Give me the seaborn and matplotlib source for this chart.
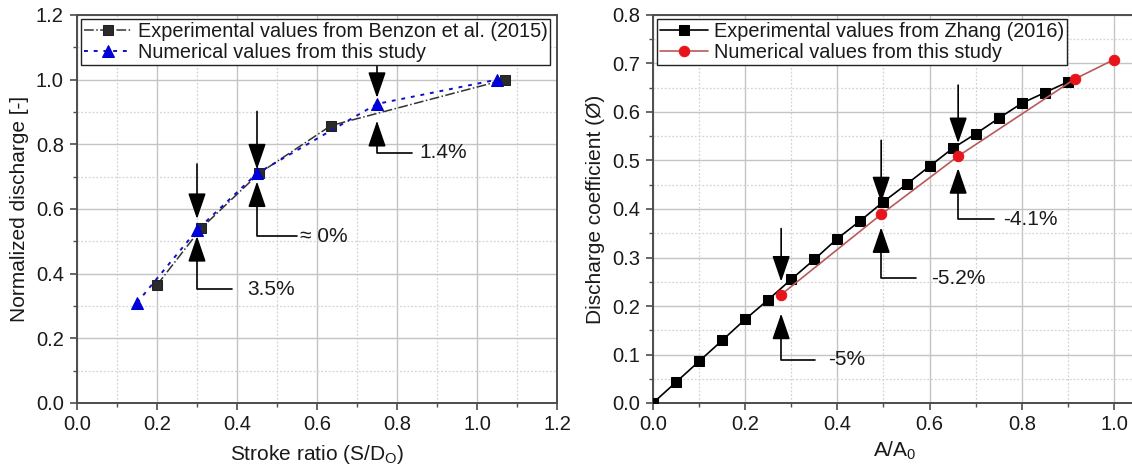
import matplotlib
matplotlib.use("Agg")
import matplotlib.pyplot as plt
from matplotlib.ticker import MultipleLocator, AutoMinorLocator, FormatStrFormatter
import seaborn as sns

# ---- Left panel: normalized discharge vs stroke ratio ----
benzon_x = [0.20, 0.31, 0.455, 0.635, 1.07]
benzon_y = [0.365, 0.54, 0.71, 0.858, 1.0]
study_left_x = [0.15, 0.30, 0.45, 0.75, 1.05]
study_left_y = [0.31, 0.535, 0.71, 0.925, 1.0]
left_labels = ["3.5%", "\u2248 0%", "1.4%"]
left_marked = [1, 2, 3]          # indices into the study series that get a callout

# ---- Right panel: discharge coefficient vs A/A0 ----
zhang_x = [0.0, 0.05, 0.10, 0.15, 0.20, 0.25, 0.30, 0.35, 0.40, 0.45,
           0.50, 0.55, 0.60, 0.65, 0.70, 0.75, 0.80, 0.85, 0.90]
zhang_y = [0.0, 0.043, 0.086, 0.129, 0.1725, 0.213, 0.255, 0.296, 0.339, 0.376,
           0.415, 0.451, 0.488, 0.525, 0.555, 0.587, 0.618, 0.640, 0.662]
study_right_x = [0.278, 0.495, 0.662, 0.915, 1.0]
study_right_y = [0.2235, 0.389, 0.509, 0.668, 0.708]
right_labels = ["-5%", "-5.2%", "-4.1%"]
right_marked = [0, 1, 2]

sns.set_theme(style="ticks")
plt.rcParams["font.family"] = ["Liberation Sans", "DejaVu Sans"]
plt.rcParams["mathtext.fontset"] = "custom"
plt.rcParams["mathtext.rm"] = "Liberation Sans"
plt.rcParams["mathtext.it"] = "Liberation Sans:italic"

TXT = "#1a1a1a"
SPINE = "#4d4d4d"
TICK_FS = 14.5
LABEL_FS = 15
LEGEND_FS = 14.3
NOTE_FS = 15

fig = plt.figure(figsize=(11.32, 4.70), dpi=100)
axL = fig.add_axes([77 / 1132, 1 - 403 / 470, 480 / 1132, 388 / 470])
axR = fig.add_axes([653 / 1132, 1 - 403 / 470, 484 / 1132, 388 / 470])


def style_axes(ax, xmax, ymax, xstep, ystep):
    ax.set_xlim(0, xmax)
    ax.set_ylim(0, ymax)
    ax.xaxis.set_major_locator(MultipleLocator(xstep))
    ax.yaxis.set_major_locator(MultipleLocator(ystep))
    ax.xaxis.set_minor_locator(AutoMinorLocator(2))
    ax.yaxis.set_minor_locator(AutoMinorLocator(2))
    ax.xaxis.set_major_formatter(FormatStrFormatter("%.1f"))
    ax.yaxis.set_major_formatter(FormatStrFormatter("%.1f"))
    ax.grid(which="major", color="#c4c4c4", lw=1.0, ls="-")
    ax.grid(which="minor", color="#d4d4d4", lw=0.9, ls=(0, (1.5, 1.5)))
    ax.set_axisbelow(True)
    for s in ax.spines.values():
        s.set_visible(True)
        s.set_color(SPINE)
        s.set_linewidth(1.4)
    ax.tick_params(which="major", direction="out", length=5, width=1.2,
                   color=SPINE, labelsize=TICK_FS, labelcolor=TXT)
    ax.tick_params(axis="y", which="major", pad=4.5)
    ax.tick_params(axis="x", which="major", pad=4)
    ax.tick_params(which="minor", direction="out", length=3, width=1.0, color=SPINE)


def callout(ax, x, y, label, top=66, gap_down=9, gap_up=9, drop=62, run=35, tdx=50):
    """Pair of arrows pointing at (x, y) from above and below, with a
    labelled elbow leader on the lower arrow. Offsets are in pixels."""
    k = 0.72  # pixels -> points at 100 dpi
    head = dict(arrowstyle="-|>,head_length=1.6,head_width=0.55",
                mutation_scale=10, color="black", lw=1.2, shrinkA=0)
    ax.annotate("", xy=(x, y), xytext=(0, top * k), textcoords="offset points",
                arrowprops=dict(head, shrinkB=gap_down * k), zorder=6)
    ax.annotate("", xy=(x, y), xytext=(run * k, -drop * k), textcoords="offset points",
                arrowprops=dict(head, shrinkB=gap_up * k,
                                connectionstyle="angle,angleA=0,angleB=90,rad=0"),
                zorder=6)
    ax.annotate(label, xy=(x, y), xytext=(tdx * k, -drop * k), textcoords="offset points",
                va="center", ha="left", fontsize=NOTE_FS, color=TXT, zorder=6)


def add_legend(ax):
    leg = ax.legend(loc="upper left", fontsize=LEGEND_FS, frameon=True, fancybox=False,
                    edgecolor="#222222", framealpha=1, borderaxespad=0.2,
                    handlelength=2.4, handletextpad=0.3, borderpad=0.15,
                    labelspacing=0.1)
    leg.get_frame().set_linewidth(1.0)
    leg.set_zorder(10)
    for t in leg.get_texts():
        t.set_color(TXT)


# ---- left panel ----
style_axes(axL, 1.2, 1.2, 0.2, 0.2)
sns.lineplot(x=benzon_x, y=benzon_y, ax=axL, color="#333333", lw=1.1, ls="-.",
             marker="s", markersize=7.5, markeredgecolor="#222222",
             markerfacecolor="#2b2b2b", label="Experimental values from Benzon et al. (2015)",
             zorder=3)
sns.lineplot(x=study_left_x, y=study_left_y, ax=axL, color="#1010c0", lw=1.4,
             ls=(0, (2, 3)), marker="^", markersize=8, markeredgecolor="#0000cc",
             markerfacecolor="#0000dd", label="Numerical values from this study",
             zorder=4)
left_geom = [dict(top=66, gap_down=11, gap_up=6, drop=59, run=35, tdx=50),
             dict(top=62, gap_down=4, gap_up=8, drop=63, run=40, tdx=43),
             dict(top=40, gap_down=6, gap_up=17, drop=49, run=35, tdx=42)]
for i, lab, g in zip(left_marked, left_labels, left_geom):
    callout(axL, study_left_x[i], study_left_y[i], lab, **g)

axL.set_xlabel("Stroke ratio (S/D$_\\mathrm{O}$)", fontsize=LABEL_FS, color=TXT, labelpad=6)
axL.set_ylabel("Normalized discharge [-]", fontsize=LABEL_FS, color=TXT, labelpad=5)
add_legend(axL)

# ---- right panel ----
style_axes(axR, 1.05, 0.8, 0.2, 0.1)
sns.lineplot(x=zhang_x, y=zhang_y, ax=axR, color="black", lw=1.2,
             marker="s", markersize=7.5, markeredgecolor="black",
             markerfacecolor="black", label="Experimental values from Zhang (2016)",
             zorder=3)
sns.lineplot(x=study_right_x, y=study_right_y, ax=axR, color="#b85a5a", lw=1.2,
             marker="o", markersize=7.5, markeredgecolor="#e8141c",
             markerfacecolor="#e8141c", label="Numerical values from this study",
             zorder=4)
right_geom = [dict(top=66, gap_down=13, gap_up=19, drop=65, run=34, tdx=47),
              dict(top=74, gap_down=12, gap_up=13, drop=64, run=35, tdx=50),
              dict(top=71, gap_down=13, gap_up=12, drop=63, run=36, tdx=45)]
for i, lab, g in zip(right_marked, right_labels, right_geom):
    callout(axR, study_right_x[i], study_right_y[i], lab, **g)

axR.set_xlabel("A/A$_0$", fontsize=LABEL_FS, color=TXT, labelpad=4)
axR.set_ylabel("Discharge coefficient (\u00d8)", fontsize=LABEL_FS, color=TXT, labelpad=5)
add_legend(axR)

fig.savefig("out.png", dpi=100)
